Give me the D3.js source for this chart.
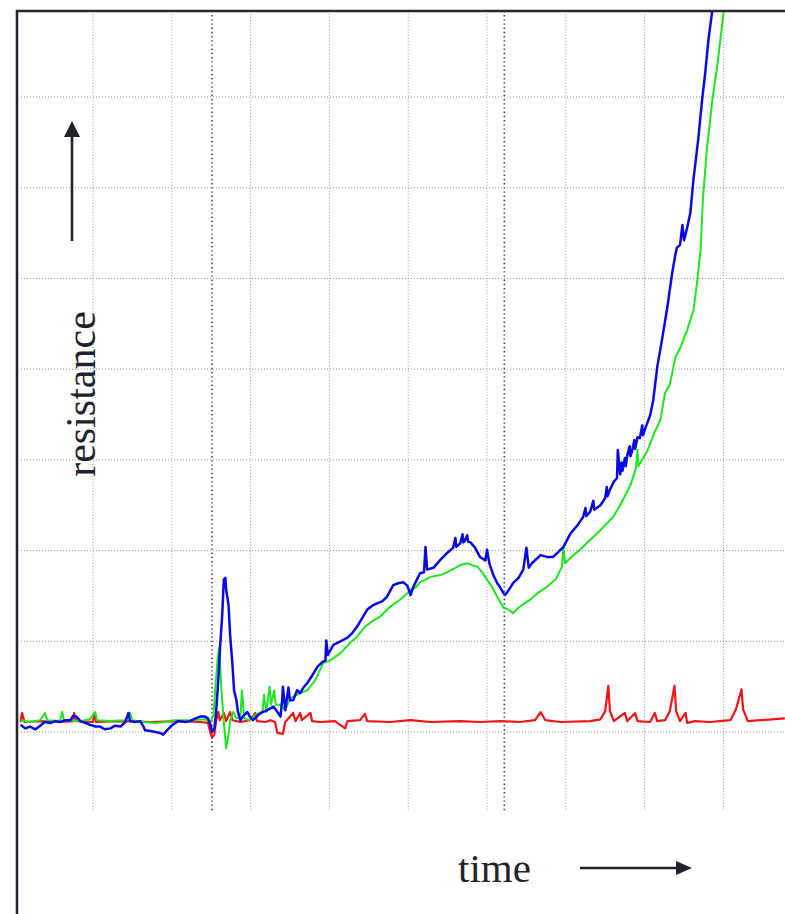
<!DOCTYPE html>
<html>
<head>
<meta charset="utf-8">
<script src="https://cdn.jsdelivr.net/npm/d3@7"></script>
<style>
html,body{margin:0;padding:0;background:#fff;}
svg{display:block;}
</style>
</head>
<body>
<div id="chart"></div>
<script>
// ---- data (time in grid divisions, resistance in grid divisions) ----
const xGridTicks = [1, 2, 3, 4, 5, 6, 7, 8, 9];
const yGridTicks = [0, 1, 2, 3, 4, 5, 6, 7];
const markerTimes = [2.51, 6.22];

const redSeries = [
[0.08,0.11],[0.10,0.21],[0.13,0.11],[0.33,0.12],[0.58,0.11],[0.75,0.12],[0.76,0.21],[0.79,0.12],
[1.00,0.11],[1.02,0.21],[1.04,0.11],[1.35,0.12],[1.73,0.11],[2.11,0.12],[2.36,0.11],[2.46,0.10],
[2.49,-0.01],[2.51,-0.06],[2.54,-0.03],[2.56,0.11],[2.59,0.22],[2.61,0.13],[2.66,0.21],[2.69,0.12],
[2.74,0.22],[2.77,0.13],[2.87,0.11],[2.99,0.13],[3.06,0.21],[3.08,0.12],[3.19,0.11],[3.25,0.13],
[3.31,0.11],[3.34,-0.01],[3.41,-0.02],[3.44,0.11],[3.54,0.21],[3.57,0.12],[3.63,0.21],[3.65,0.13],
[3.76,0.21],[3.78,0.12],[3.88,0.11],[4.07,0.12],[4.20,0.04],[4.23,0.12],[4.39,0.13],[4.45,0.20],
[4.48,0.12],[4.77,0.11],[5.03,0.13],[5.28,0.11],[5.66,0.12],[5.91,0.11],[6.17,0.12],[6.42,0.11],
[6.61,0.13],[6.68,0.22],[6.74,0.13],[6.93,0.11],[7.31,0.12],[7.44,0.14],[7.50,0.23],[7.54,0.51],
[7.56,0.23],[7.61,0.12],[7.75,0.21],[7.78,0.12],[7.88,0.21],[7.91,0.12],[8.07,0.11],[8.13,0.21],
[8.16,0.12],[8.26,0.13],[8.32,0.23],[8.38,0.51],[8.40,0.23],[8.45,0.12],[8.52,0.21],[8.54,0.10],
[8.64,0.12],[8.83,0.11],[9.09,0.13],[9.16,0.25],[9.23,0.47],[9.25,0.25],[9.31,0.12],[9.47,0.13],
[9.78,0.15]
];

const greenSeries = [
[0.08,0.13],[0.20,0.11],[0.33,0.13],[0.39,0.21],[0.42,0.13],[0.58,0.12],[0.61,0.22],[0.63,0.13],
[0.84,0.12],[0.96,0.14],[1.03,0.22],[1.05,0.13],[1.22,0.12],[1.41,0.13],[1.47,0.21],[1.50,0.13],
[1.66,0.11],[1.79,0.10],[1.92,0.11],[2.04,0.13],[2.23,0.13],[2.42,0.14],[2.49,0.11],[2.53,0.19],
[2.55,0.46],[2.58,0.79],[2.60,0.93],[2.61,0.79],[2.63,0.46],[2.64,0.35],[2.66,0.11],[2.69,-0.18],
[2.72,-0.03],[2.74,0.13],[2.78,0.22],[2.82,0.15],[2.87,0.17],[2.89,0.46],[2.92,0.15],[2.99,0.13],
[3.06,0.19],[3.15,0.22],[3.17,0.41],[3.20,0.22],[3.24,0.50],[3.26,0.30],[3.30,0.46],[3.32,0.30],
[3.38,0.30],[3.44,0.24],[3.50,0.37],[3.63,0.43],[3.72,0.46],[3.82,0.57],[3.92,0.76],[4.01,0.79],
[4.14,0.87],[4.26,0.98],[4.35,1.05],[4.45,1.16],[4.56,1.23],[4.64,1.27],[4.77,1.38],[4.90,1.46],
[4.99,1.53],[5.03,1.57],[5.09,1.59],[5.15,1.65],[5.22,1.68],[5.28,1.71],[5.41,1.73],[5.49,1.76],
[5.60,1.81],[5.66,1.84],[5.75,1.86],[5.81,1.84],[5.88,1.82],[5.94,1.76],[6.00,1.68],[6.07,1.59],
[6.13,1.49],[6.21,1.37],[6.27,1.35],[6.33,1.31],[6.40,1.37],[6.48,1.42],[6.55,1.46],[6.64,1.53],
[6.76,1.60],[6.87,1.68],[6.95,1.82],[6.97,2.03],[6.99,1.86],[7.06,1.92],[7.18,2.01],[7.31,2.12],
[7.40,2.19],[7.50,2.28],[7.60,2.37],[7.69,2.50],[7.82,2.72],[7.89,2.91],[7.91,3.11],[7.92,2.93],
[8.03,3.09],[8.13,3.31],[8.20,3.44],[8.26,3.74],[8.32,3.83],[8.39,4.13],[8.45,4.23],[8.54,4.43],
[8.62,4.65],[8.67,4.98],[8.71,5.31],[8.74,5.87],[8.79,6.42],[8.86,6.97],[8.92,7.33],[8.98,7.77],
[9.02,8.07]
];

const blueSeries = [
[0.08,0.08],[0.14,0.04],[0.20,0.06],[0.27,0.03],[0.33,0.07],[0.39,0.11],[0.46,0.10],[0.52,0.12],
[0.58,0.11],[0.65,0.13],[0.71,0.13],[0.75,0.18],[0.79,0.17],[0.84,0.12],[0.90,0.10],[0.96,0.08],
[1.03,0.06],[1.09,0.06],[1.15,0.03],[1.22,0.04],[1.28,0.07],[1.35,0.06],[1.41,0.11],[1.45,0.21],
[1.47,0.12],[1.54,0.11],[1.60,0.12],[1.64,0.06],[1.66,0.02],[1.73,0.01],[1.79,0.00],[1.85,-0.01],
[1.89,-0.03],[1.94,0.02],[2.01,0.08],[2.08,0.12],[2.17,0.11],[2.23,0.12],[2.30,0.15],[2.36,0.17],
[2.42,0.17],[2.46,0.15],[2.49,0.08],[2.51,0.00],[2.54,0.04],[2.56,0.19],[2.59,0.57],[2.61,0.90],
[2.64,1.29],[2.66,1.68],[2.68,1.70],[2.69,1.57],[2.72,1.40],[2.74,1.07],[2.77,0.74],[2.79,0.46],
[2.82,0.35],[2.84,0.22],[2.87,0.13],[2.91,0.18],[2.96,0.22],[2.99,0.17],[3.03,0.13],[3.10,0.19],
[3.15,0.22],[3.21,0.24],[3.25,0.26],[3.29,0.28],[3.34,0.22],[3.38,0.17],[3.40,0.35],[3.41,0.50],
[3.44,0.24],[3.48,0.49],[3.50,0.35],[3.54,0.35],[3.59,0.46],[3.63,0.43],[3.67,0.49],[3.72,0.54],
[3.78,0.62],[3.85,0.72],[3.91,0.77],[3.95,0.79],[3.96,1.01],[3.98,0.85],[4.05,0.96],[4.14,1.00],
[4.23,1.04],[4.29,1.09],[4.35,1.16],[4.42,1.26],[4.48,1.35],[4.54,1.39],[4.61,1.42],[4.67,1.44],
[4.73,1.49],[4.81,1.62],[4.87,1.64],[4.94,1.65],[4.99,1.61],[5.03,1.51],[5.06,1.59],[5.11,1.68],
[5.15,1.75],[5.20,1.76],[5.22,2.04],[5.24,1.79],[5.32,1.81],[5.41,1.90],[5.49,1.97],[5.57,2.03],
[5.60,2.14],[5.61,2.04],[5.66,2.08],[5.69,2.18],[5.70,2.09],[5.72,2.11],[5.75,2.17],[5.76,2.10],
[5.79,2.09],[5.85,2.03],[5.91,1.93],[5.98,1.89],[6.00,2.01],[6.03,1.86],
[6.08,1.73],[6.13,1.64],[6.17,1.59],[6.21,1.53],[6.23,1.51],[6.28,1.57],[6.33,1.64],[6.40,1.70],
[6.46,1.79],[6.50,2.03],[6.53,1.81],[6.57,1.86],[6.68,1.95],[6.76,1.93],[6.84,1.93],[6.90,1.98],
[6.97,2.04],[7.06,2.19],[7.15,2.28],[7.22,2.37],[7.25,2.47],[7.26,2.38],[7.31,2.43],[7.35,2.55],
[7.36,2.45],[7.44,2.50],[7.50,2.58],[7.52,2.70],[7.53,2.60],[7.56,2.67],
[7.61,2.76],[7.65,2.80],[7.66,3.11],[7.69,2.84],[7.71,2.97],[7.72,2.88],[7.75,3.02],[7.76,2.93],
[7.78,3.05],[7.81,3.15],[7.82,3.04],[7.84,3.09],[7.87,3.22],[7.88,3.12],[7.91,3.25],[7.94,3.24],
[7.97,3.38],[7.98,3.27],[8.01,3.35],[8.07,3.49],[8.11,3.66],[8.16,4.02],[8.22,4.32],[8.29,4.69],
[8.35,5.06],[8.39,5.26],[8.41,5.34],[8.45,5.37],[8.48,5.59],[8.50,5.42],[8.54,5.56],[8.58,5.72],
[8.62,6.09],[8.68,6.53],[8.73,6.97],[8.77,7.27],[8.81,7.63],[8.86,7.96],[8.88,8.07]
];

const yLabel = "resistance";
const xLabel = "time";

// ---- drawing ----
const W = 785, H = 914;
const svg = d3.select("#chart").append("svg").attr("width", W).attr("height", H);

const x = d3.scaleLinear().domain([0, 10]).range([14.2, 802.2]);
const y = d3.scaleLinear().domain([0, 7]).range([732, 97]);
const yBottom = -0.88; // grid bottom
const yTop = 7.95;

svg.append("defs").append("clipPath").attr("id", "plotclip")
  .append("rect").attr("x", 18).attr("y", 12).attr("width", 800).attr("height", 820);

const grid = svg.append("g");
grid.selectAll("line.h").data(yGridTicks).join("line")
  .attr("x1", 21).attr("x2", W)
  .attr("y1", d => y(d)).attr("y2", d => y(d))
  .attr("stroke", "#9a9a9a").attr("stroke-width", 1).attr("stroke-dasharray", "1,2");
grid.selectAll("line.v").data(xGridTicks).join("line")
  .attr("x1", d => x(d)).attr("x2", d => x(d))
  .attr("y1", y(yTop)).attr("y2", y(yBottom))
  .attr("stroke", "#9a9a9a").attr("stroke-width", 1).attr("stroke-dasharray", "1,2");
grid.selectAll("line.m").data(markerTimes).join("line")
  .attr("x1", d => x(d)).attr("x2", d => x(d))
  .attr("y1", y(yTop)).attr("y2", y(yBottom))
  .attr("stroke", "#444").attr("stroke-width", 1.6).attr("stroke-dasharray", "1.4,2.8");

const line = d3.line().x(d => x(d[0])).y(d => y(d[1]));
const plot = svg.append("g").attr("clip-path", "url(#plotclip)");
const series = [
  {data: redSeries, color: "#f01414", w: 2.2},
  {data: greenSeries, color: "#1ee61e", w: 2},
  {data: blueSeries, color: "#0a0ae6", w: 2.5}
];
plot.selectAll("path").data(series).join("path")
  .attr("d", d => line(d.data))
  .attr("fill", "none")
  .attr("stroke", d => d.color)
  .attr("stroke-width", d => d.w)
  .attr("stroke-linejoin", "round");

// border
svg.append("path")
  .attr("d", `M17,${H + 2} L17,11 L${W + 2},11`)
  .attr("fill", "none").attr("stroke", "#26242f").attr("stroke-width", 2.6);

// labels
const ink = "#23222c";
svg.append("text")
  .attr("transform", "translate(95,394) rotate(-90)")
  .attr("text-anchor", "middle")
  .attr("font-family", "'Liberation Serif', 'Times New Roman', serif")
  .attr("font-size", 42).attr("fill", ink)
  .text(yLabel);
svg.append("text")
  .attr("x", 458).attr("y", 882)
  .attr("font-family", "'Liberation Serif', 'Times New Roman', serif")
  .attr("font-size", 41).attr("fill", ink)
  .text(xLabel);

// arrows
svg.append("line").attr("x1", 72).attr("y1", 241).attr("x2", 72).attr("y2", 134)
  .attr("stroke", ink).attr("stroke-width", 2.6);
svg.append("path").attr("d", "M64,137 L80,137 L72,121 Z").attr("fill", ink);
svg.append("line").attr("x1", 580).attr("y1", 868).attr("x2", 678).attr("y2", 868)
  .attr("stroke", ink).attr("stroke-width", 2.6);
svg.append("path").attr("d", "M676,861 L676,875 L692,868 Z").attr("fill", ink);
</script>
</body>
</html>
